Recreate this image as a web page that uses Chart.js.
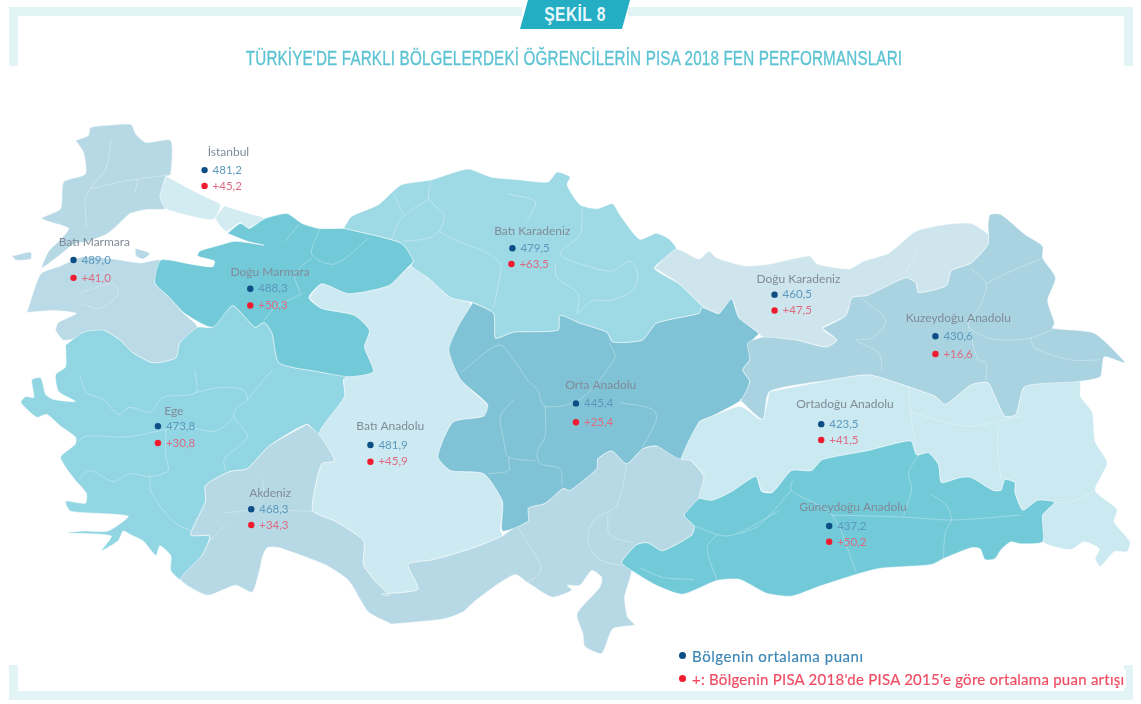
<!DOCTYPE html>
<html lang="tr">
<head>
<meta charset="utf-8">
<title>Şekil 8</title>
<script src="https://cdn.jsdelivr.net/npm/chart.js@4"></script>
<style>
  html, body { margin: 0; background: #fff; }
  #page { position: relative; width: 1141px; height: 704px; overflow: hidden; filter: blur(0.55px); }
  #harita { position: absolute; left: 0; top: 0; }
  .bar { position: absolute; background: #e3f4f6; }
  #tab { position: absolute; left: 520px; top: 0; width: 110px; height: 29px; background: #24aec4;
    clip-path: polygon(8px 0, 100% 0, 102px 100%, 0 100%); }
  #tab span { display: block; color: #e8f8fa; font: bold 20px "Liberation Sans", sans-serif; text-align: center;
    line-height: 28px; transform: scaleX(0.78); letter-spacing: 0.5px; }
  #baslik { position: absolute; left: 0; width: 1148px; top: 46px; text-align: center; white-space: nowrap;
    font: 21px "Liberation Sans", sans-serif; color: #5cc3d3; line-height: 24px; transform: scaleX(0.726); letter-spacing: 0.2px;
    -webkit-text-stroke: 0.35px #5cc3d3; }
  .legend { position: absolute; left: 692px; font: 15px Lato, sans-serif; white-space: nowrap; line-height: 18px; -webkit-text-stroke: 0.2px currentColor; }
  .legend i { position: absolute; left: -13px; top: 5px; width: 7px; height: 7px; border-radius: 50%; }
</style>
</head>
<body>
<div id="page">
  <div class="bar" style="left:9px;top:7px;width:513px;height:9px"></div>
  <div class="bar" style="left:628px;top:7px;width:505px;height:9px"></div>
  <div class="bar" style="left:9px;top:7px;width:9px;height:59px"></div>
  <div class="bar" style="left:1124px;top:7px;width:9px;height:59px"></div>
  <div class="bar" style="left:9px;top:665px;width:9px;height:35px"></div>
  <div class="bar" style="left:1124px;top:665px;width:9px;height:35px"></div>
  <div class="bar" style="left:9px;top:691px;width:1124px;height:9px"></div>
  <canvas id="harita" width="1141" height="704"></canvas>
  <div id="tab"><span>ŞEKİL 8</span></div>
  <div id="baslik">TÜRKİYE'DE FARKLI BÖLGELERDEKİ ÖĞRENCİLERİN PISA 2018 FEN PERFORMANSLARI</div>
  <div class="legend" style="top:647px;color:#3f87b5;letter-spacing:.55px"><i style="background:#0d4f85"></i>Bölgenin ortalama puanı</div>
  <div class="legend" style="top:670px;color:#ee4d63;letter-spacing:.25px;background:#fff;padding-right:2px"><i style="background:#ee1c2e"></i>+: Bölgenin PISA 2018'de PISA 2015'e göre ortalama puan artışı</div>
</div>
<script>
// === DATA ===
const bolgeler = ['İstanbul', 'Batı Marmara', 'Doğu Marmara', 'Batı Karadeniz', 'Doğu Karadeniz', 'Kuzeydoğu Anadolu', 'Orta Anadolu', 'Ortadoğu Anadolu', 'Ege', 'Batı Anadolu', 'Akdeniz', 'Güneydoğu Anadolu'];
const ortalama = [481.2, 489.0, 488.3, 479.5, 460.5, 430.6, 445.4, 423.5, 473.8, 481.9, 468.3, 437.2];
const artis = [45.2, 41.0, 50.3, 63.5, 47.5, 16.6, 25.4, 41.5, 30.8, 45.9, 34.3, 50.2];

// yer imleri, harita koordinati
const ortalamaX = [202, 70, 248, 512, 776, 938, 576, 823, 155, 369, 249, 831];
const ortalamaY = [168, 259, 288, 247, 294, 336, 404, 425, 427, 446, 511, 528];
const artisX = [202, 70, 248, 511, 776, 938, 576, 823, 155, 369, 249, 831];
const artisY = [184, 277, 305, 263, 310, 354, 423, 441, 444, 463, 527, 544];
const adX = [226, 91, 268, 532, 800, 961, 601, 847, 171, 389, 268, 855];
const adY = [150, 241, 271, 230, 278, 318, 385, 405, 412, 427, 495, 509];

// === HARITA ===
const trakya = [[72,138],[85,133],[87,125],[113,122],[128,122],[133,132],[143,140],[168,138],[168,172],[163,175],[158,195],[163,207],[143,208],[127,212],[113,225],[103,233],[85,240],[70,243],[55,255],[38,267],[45,250],[55,240],[65,227],[38,217],[57,207],[60,180],[82,172],[80,150]];
const gokceada = [[8,255],[27,251],[27,258],[12,259]];
const kapidag = [[132,247],[147,252],[140,258],[133,255]];
const batiMarmara = [[23,312],[37,273],[57,265],[78,256],[110,258],[137,262],[157,259],[152,282],[167,297],[180,312],[195,327],[177,343],[173,358],[150,363],[130,353],[117,340],[100,330],[77,337],[60,340],[52,330],[55,322],[73,313],[50,310]];
const istanbulAvrupa = [[163,174],[187,187],[207,197],[218,203],[211,218],[190,215],[163,207],[157,195]];
const istanbulAsya = [[222,204],[247,212],[262,217],[245,227],[238,221],[224,230],[213,217]];
const doguMarmara = [[225,232],[238,222],[247,227],[263,217],[285,212],[300,222],[317,227],[342,227],[347,228],[400,242],[412,260],[405,268],[387,285],[347,293],[320,283],[307,297],[320,308],[353,315],[368,330],[363,347],[372,372],[347,377],[317,372],[277,363],[270,333],[262,322],[253,327],[243,317],[230,305],[210,327],[182,313],[167,297],[152,282],[158,259],[187,263],[210,266],[212,260],[195,255],[197,250],[217,244],[233,240],[262,244],[245,240]];
const ege = [[62,345],[80,332],[100,330],[117,340],[130,353],[150,363],[173,358],[177,343],[195,327],[210,327],[230,305],[243,317],[253,327],[262,322],[270,333],[277,363],[317,372],[347,377],[342,380],[343,397],[317,435],[305,425],[267,447],[245,470],[227,473],[203,487],[203,503],[188,537],[207,538],[200,557],[178,582],[168,573],[168,558],[157,548],[153,558],[140,543],[128,537],[120,533],[115,543],[98,553],[108,538],[63,535],[80,533],[105,533],[125,518],[67,513],[62,503],[82,505],[83,495],[73,483],[63,470],[57,458],[72,445],[72,438],[57,427],[43,415],[33,418],[17,403],[22,397],[30,398],[28,380],[37,378],[42,395],[50,400],[72,402],[55,392],[52,375],[62,367]];
const akdeniz = [[305,425],[317,435],[333,462],[320,465],[312,495],[311,513],[333,523],[362,543],[362,567],[373,583],[388,598],[380,597],[417,592],[407,567],[433,562],[473,550],[502,538],[513,530],[528,523],[528,510],[545,505],[563,490],[570,492],[597,470],[598,460],[612,452],[627,465],[643,450],[657,447],[680,452],[692,462],[705,478],[700,500],[685,517],[695,528],[693,537],[663,553],[648,545],[637,547],[622,565],[632,573],[625,600],[628,620],[635,628],[613,632],[602,657],[585,650],[583,637],[577,617],[600,590],[602,580],[592,573],[580,588],[567,588],[572,593],[552,600],[527,585],[515,577],[497,587],[473,605],[462,615],[443,622],[393,627],[390,627],[367,615],[347,583],[323,567],[277,550],[265,550],[260,560],[258,570],[250,595],[233,588],[205,598],[178,582],[200,557],[207,538],[188,537],[203,503],[203,487],[227,473],[245,470],[267,447]];
const batiAnadolu = [[307,297],[320,283],[347,293],[387,285],[410,265],[427,277],[450,297],[470,303],[450,347],[460,380],[488,407],[483,417],[452,423],[437,458],[450,472],[483,475],[502,503],[500,532],[502,538],[473,550],[433,562],[407,567],[417,592],[380,597],[388,598],[373,583],[362,567],[362,543],[333,523],[311,513],[312,495],[320,465],[333,462],[317,435],[343,397],[342,380],[347,377],[372,372],[363,347],[368,330],[353,315],[320,308]];
const batiKaradeniz = [[342,227],[350,215],[377,203],[400,183],[430,178],[467,167],[490,175],[520,178],[548,180],[557,170],[570,175],[567,183],[580,203],[597,207],[613,202],[620,213],[640,238],[657,232],[670,238],[677,248],[655,267],[680,283],[703,305],[720,313],[703,307],[700,313],[657,323],[643,340],[613,342],[607,332],[580,323],[560,315],[558,330],[513,332],[495,338],[493,313],[472,302],[450,297],[427,277],[410,265],[412,260],[400,242]];
const ortaAnadolu = [[472,302],[493,313],[495,338],[513,332],[558,330],[560,315],[580,323],[607,332],[613,342],[643,340],[657,323],[700,313],[703,307],[720,313],[727,302],[733,298],[740,317],[760,333],[754,340],[751,360],[744,370],[751,382],[743,400],[713,417],[700,423],[682,460],[657,447],[643,450],[627,465],[612,452],[598,460],[597,470],[570,492],[563,490],[545,505],[528,510],[528,523],[502,533],[502,503],[483,475],[450,472],[437,458],[452,423],[483,417],[487,405],[460,380],[448,350],[457,327]];
const doguKaradeniz = [[655,267],[677,248],[700,258],[710,250],[718,257],[747,265],[771,263],[811,255],[819,263],[851,268],[866,260],[891,252],[918,230],[948,223],[974,222],[991,233],[991,243],[974,262],[954,270],[949,285],[921,292],[918,282],[908,277],[869,295],[854,297],[848,315],[824,328],[839,340],[828,347],[798,340],[764,337],[760,333],[740,317],[733,298],[720,313],[703,305],[680,283]];
const kuzeydogu = [[824,328],[848,315],[854,297],[869,295],[908,277],[918,282],[921,292],[949,285],[954,270],[974,262],[991,243],[991,223],[993,213],[1004,213],[1028,233],[1046,245],[1046,257],[1059,277],[1051,300],[1058,323],[1056,328],[1098,333],[1129,363],[1108,357],[1104,377],[1081,382],[1028,387],[1019,415],[1008,417],[998,397],[991,383],[974,385],[948,405],[938,397],[911,387],[871,375],[834,380],[771,392],[764,420],[741,400],[743,400],[751,382],[744,370],[751,360],[749,343],[764,337],[798,340],[828,347],[839,340]];
const ortadogu = [[771,392],[834,380],[871,375],[911,387],[938,397],[948,405],[974,385],[991,383],[998,397],[1008,417],[1019,415],[1028,387],[1083,382],[1084,397],[1096,413],[1099,443],[1111,464],[1099,492],[1121,511],[1118,524],[1134,544],[1131,554],[1118,554],[1104,569],[1099,561],[1103,551],[1088,544],[1074,552],[1046,544],[1046,517],[1058,504],[1041,502],[1026,512],[1018,494],[1018,484],[1008,481],[1004,492],[996,492],[974,479],[963,479],[944,484],[941,466],[931,454],[919,456],[913,442],[869,452],[824,461],[813,472],[793,472],[774,494],[763,492],[757,478],[733,493],[713,502],[700,500],[705,478],[692,462],[682,460],[700,423],[713,417],[742,407],[763,420]];
const guneydogu = [[700,500],[713,502],[733,493],[757,478],[763,493],[774,494],[793,472],[813,472],[824,461],[869,452],[913,442],[919,456],[931,454],[941,466],[944,484],[963,479],[974,479],[996,492],[1004,492],[1008,481],[1018,484],[1018,494],[1026,512],[1041,502],[1058,504],[1046,517],[1046,544],[1024,546],[1014,544],[1004,552],[998,561],[988,562],[983,551],[974,550],[946,561],[934,567],[908,569],[881,571],[858,577],[821,589],[793,599],[768,596],[741,582],[718,583],[683,597],[657,588],[632,573],[622,565],[637,547],[648,545],[663,553],[693,537],[695,528],[685,517]];

// il sinirlari
const ilSinirlari = [
  [[108,137],[103,165],[87,187],[82,197],[83,227]], [[87,187],[117,180],[135,177],[165,173]], [[135,177],[132,190]],
  [[77,292],[110,283],[115,293],[97,308],[77,303]],
  [[297,223],[283,240]], [[318,228],[310,253],[333,263],[367,237]], [[310,257],[293,273],[298,292]], [[262,320],[273,307],[300,293]],
  [[430,178],[428,197],[443,213],[438,230],[427,237],[403,240]], [[428,197],[400,217],[390,238]], [[393,193],[402,213]],
  [[438,230],[457,240],[483,250],[500,263],[498,283],[493,307]], [[507,192],[535,200],[527,220]],
  [[582,207],[580,233],[560,253],[587,265],[613,270],[630,260],[638,273],[633,290],[610,300],[593,300],[577,313]], [[555,263],[557,277],[578,293],[577,313]],
  [[77,377],[83,393],[100,400],[115,415],[127,408],[147,413],[160,398],[193,393],[192,370]], [[193,393],[217,388],[240,390],[245,400],[233,410],[232,418],[245,438],[222,460],[223,472]], [[270,370],[245,400]],
  [[232,418],[213,432],[180,428],[123,438],[83,437],[75,442]], [[163,430],[163,457],[165,472],[147,478],[127,475],[110,483],[87,472],[75,480]], [[147,478],[148,493],[170,523],[188,533]],
  [[222,515],[250,512],[310,513]], [[260,480],[262,495]], [[223,527],[205,545]],
  [[518,530],[538,563],[540,575],[527,585]], [[627,467],[617,507],[593,523],[588,545],[600,562],[622,568]], [[608,517],[610,537],[633,545]],
  [[460,373],[498,345],[512,358],[527,380],[537,390],[545,407],[580,400],[615,358],[610,343]], [[545,407],[545,437],[537,453],[540,465],[560,470],[562,488]],
  [[513,400],[500,417],[503,440],[508,458],[535,462]], [[508,458],[508,472],[487,475]], [[620,403],[653,410],[657,420],[643,448]],
  [[864,298],[888,320],[874,338],[858,340],[881,353],[884,370]], [[974,268],[989,283],[984,303],[971,325],[989,337],[1008,340],[1034,338],[1058,328]],
  [[989,283],[1008,273],[1044,258]], [[971,325],[981,360],[989,363],[989,383]], [[1034,338],[1038,348],[1074,360],[1103,360]],
  [[921,250],[908,272]], [[911,387],[913,413],[918,447]], [[913,413],[971,427],[1024,417]], [[1001,427],[1001,457],[1004,481]], [[1099,492],[1074,504],[1058,504]],
  [[794,481],[793,492],[834,517],[858,574]], [[793,492],[761,527],[741,536]], [[834,517],[908,519],[954,522],[1024,517]],
  [[921,456],[911,474],[914,491],[906,517]], [[934,496],[949,507],[954,522],[948,534],[946,561]],
  [[718,537],[708,550],[718,583]], [[695,528],[730,538],[780,513]], [[640,570],[663,580],[695,582]]
];

// === RENK ===
const bolgeRenk = [
  [trakya, '#b7d9e5'], [gokceada, '#b7d9e5'], [kapidag, '#b7d9e5'], [batiMarmara, '#b9dae6'],
  [istanbulAvrupa, '#d2ecf1'], [istanbulAsya, '#d2ecf1'],
  [ege, '#92d6e3'], [batiAnadolu, '#cde9f2'], [akdeniz, '#b7d9e5'], [batiKaradeniz, '#9edae5'],
  [doguMarmara, '#72c9d8'], [ortaAnadolu, '#80c2d6'], [doguKaradeniz, '#cfe5ed'],
  [ortadogu, '#cbe9f1'], [kuzeydogu, '#a9d3e1'], [guneydogu, '#72c9d8']
];

const fmt = (v) => v.toFixed(1).replace('.', ',');
const toPts = (arr) => arr.map(([x, y]) => ({ x, y }));

// === DATASET ===
const datasets = [];
bolgeRenk.forEach(([poly, renk], i) => {
  datasets.push({
    type: 'scatter', data: toPts(poly.concat([poly[0]])), showLine: true, fill: 'shape', tension: 0.2,
    backgroundColor: renk, borderColor: 'rgba(255,255,255,0.7)', borderWidth: 0.7, pointRadius: 0, order: 200 - i,
  });
});
ilSinirlari.forEach(s => {
  datasets.push({
    type: 'scatter', data: toPts(s), showLine: true, fill: false, tension: 0.3,
    borderColor: 'rgba(255,255,255,0.3)', borderWidth: 1, pointRadius: 0, order: 50,
  });
});
datasets.push({
  type: 'scatter', label: 'Bölgenin ortalama puanı', data: ortalamaX.map((x, i) => ({ x, y: ortalamaY[i] })),
  backgroundColor: '#0d4f85', pointRadius: 3.2, pointBorderWidth: 0, order: 2,
});
datasets.push({
  type: 'scatter', label: 'Ortalama puan artışı', data: artisX.map((x, i) => ({ x, y: artisY[i] })),
  backgroundColor: '#ee1c2e', pointRadius: 3.2, pointBorderWidth: 0, order: 1,
});

// === ETIKET ===
const etiketPlugin = {
  id: 'etiket',
  afterDatasetsDraw(chart) {
    const { ctx, scales: { x, y } } = chart;
    ctx.save();
    ctx.textBaseline = 'middle';
    bolgeler.forEach((ad, i) => {
      ctx.font = '12px Lato, sans-serif';
      ctx.fillStyle = '#808b98';
      ctx.textAlign = 'center';
      ctx.fillText(ad, x.getPixelForValue(adX[i]), y.getPixelForValue(adY[i]));
      ctx.font = '11.5px Lato, sans-serif';
      ctx.textAlign = 'left';
      ctx.fillStyle = '#5a98bd';
      ctx.fillText(fmt(ortalama[i]), x.getPixelForValue(ortalamaX[i]) + 8, y.getPixelForValue(ortalamaY[i]));
      ctx.fillStyle = '#dc6a80';
      ctx.fillText('+' + fmt(artis[i]), x.getPixelForValue(artisX[i]) + 8, y.getPixelForValue(artisY[i]));
    });
    ctx.restore();
  }
};

// === CHART ===
new Chart(document.getElementById('harita').getContext('2d'), {
  data: { datasets },
  plugins: [etiketPlugin],
  options: {
    responsive: false,
    animation: false,
    layout: { padding: 0 },
    plugins: { legend: { display: false }, tooltip: { enabled: false } },
    scales: {
      x: { type: 'linear', min: 0, max: 1141, display: false },
      y: { type: 'linear', min: 0, max: 704, reverse: true, display: false },
    },
  },
});
</script>
</body>
</html>
